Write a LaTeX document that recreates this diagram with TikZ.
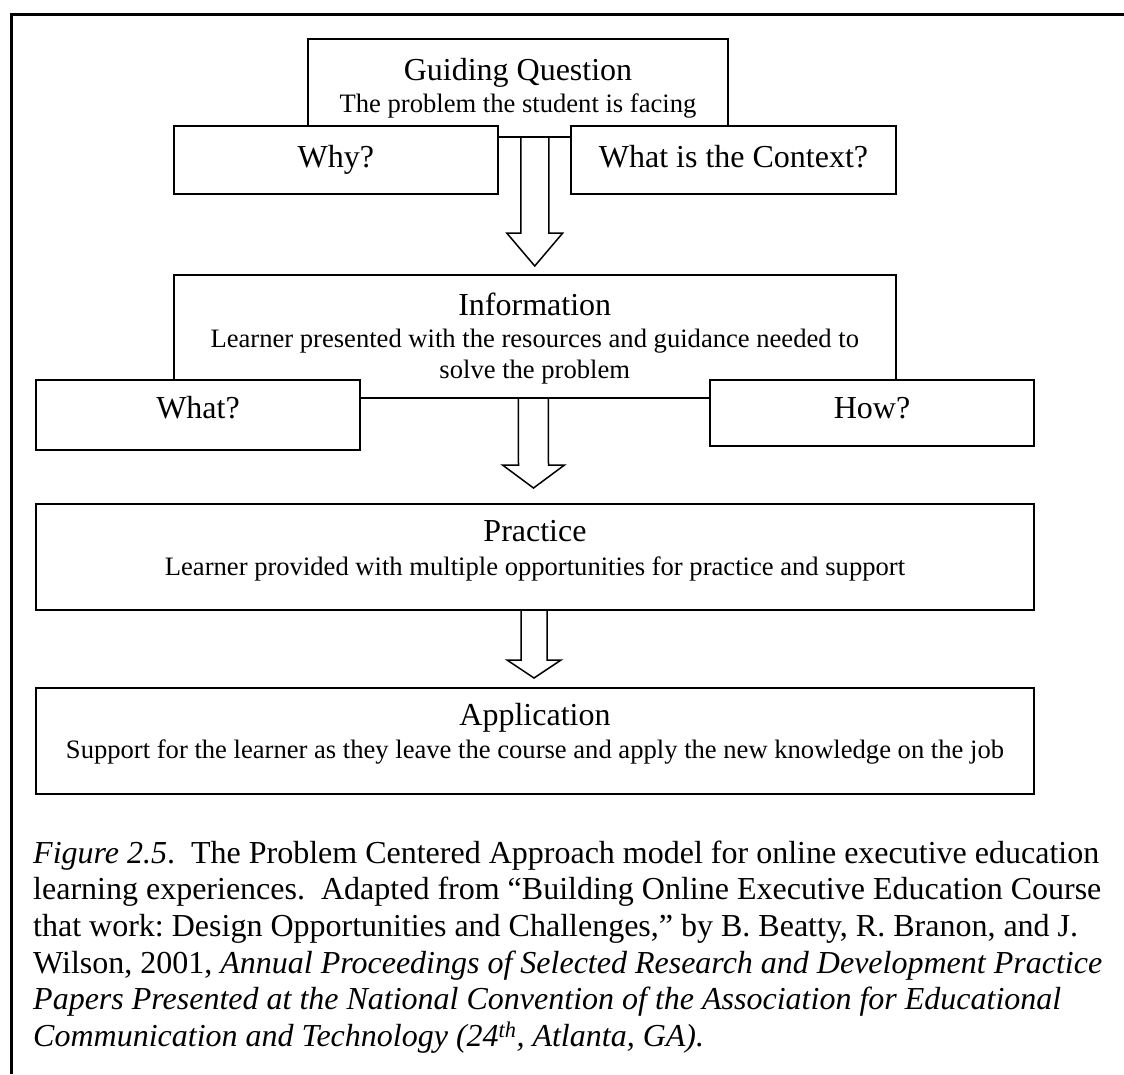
\documentclass[tikz,border=0pt]{standalone}
\usepackage{fontspec}
\setmainfont{Liberation Serif}
\usetikzlibrary{calc}
\frenchspacing

\tikzset{
  box/.style={draw, line width=2pt, fill=white, inner sep=0pt, outer sep=0pt},
  headtext/.style={font=\fontsize{32}{36}\selectfont, inner sep=0pt, anchor=base},
  subtext/.style={font=\fontsize{26.6}{30}\selectfont, inner sep=0pt, anchor=base},
  capline/.style={font=\fontsize{32}{36}\selectfont, inner sep=0pt, anchor=base west},
  flowline/.style={draw, line width=1.5pt, line join=miter},
  frameline/.style={line width=2.5pt}
}

% hollow block arrow: #1 start, #2 tip, #3 shaft half width, #4 head half width, #5 head length
\newcommand\blockarrow[5]{%
  \draw[flowline] ($(#1)+(-#3,0)$) -- ($(#2)+(-#3,-#5)$) -- ($(#2)+(-#4,-#5)$)
    -- (#2) -- ($(#2)+(#4,-#5)$) -- ($(#2)+(#3,-#5)$) -- ($(#1)+(#3,0)$);}

\begin{document}
\begin{tikzpicture}[x=1pt,y=-1pt]
\useasboundingbox (0,0) rectangle (1124,1074);

% page frame (top and left edges)
\coordinate (frTR) at (1124,14.5);
\coordinate (frTL) at (11.7,14.5);
\coordinate (frBL) at (11.7,1074);
\draw[frameline] (frTR) -- (frTL) -- (frBL);

% guiding question block
\node[box, minimum width=420pt, minimum height=98pt] (gq) at (518,88) {};
\node[headtext] (gqT) at (518,80) {Guiding Question};
\node[subtext] (gqS) at (518,112) {The problem the student is facing};
\node[box, minimum width=324.5pt, minimum height=68.3pt] (why) at (335.75,159.85) {};
\node[headtext] (whyT) at (335.75,167) {Why?};
\node[box, minimum width=325pt, minimum height=68.3pt] (ctx) at (733.5,159.85) {};
\node[headtext] (ctxT) at (733.5,167) {What is the Context?};

% information block
\node[box, minimum width=722.5pt, minimum height=122.7pt] (info) at (534.75,336.35) {};
\node[headtext] (infoT) at (534.75,315) {Information};
\node[subtext] (infoS1) at (534.75,347) {Learner presented with the resources and guidance needed to};
\node[subtext] (infoS2) at (534.75,378) {solve the problem};
\node[box, minimum width=324pt, minimum height=70pt] (what) at (198,415) {};
\node[headtext] (whatT) at (198,418) {What?};
\node[box, minimum width=324pt, minimum height=65.7pt] (how) at (872,412.85) {};
\node[headtext] (howT) at (872,418) {How?};

% practice block
\node[box, minimum width=998pt, minimum height=106pt] (prac) at (535,557) {};
\node[headtext] (pracT) at (535,541.7) {Practice};
\node[subtext] (pracS) at (535,575) {Learner provided with multiple opportunities for practice and support};

% application block
\node[box, minimum width=998pt, minimum height=106pt] (app) at (535,741) {};
\node[headtext] (appT) at (535,725) {Application};
\node[subtext] (appS) at (535,758) {Support for the learner as they leave the course and apply the new knowledge on the job};

% flow arrows
\coordinate (a1s) at (info.north |- gq.south);
\coordinate (a1t) at ($(info.north)+(0,-9)$);
\blockarrow{a1s}{a1t}{14}{28}{33}
\coordinate (a2s) at ($(info.south)+(-1.5,0)$);
\coordinate (a2t) at ($(prac.north)+(-1.5,-16)$);
\blockarrow{a2s}{a2t}{15}{31}{23}
\coordinate (a3s) at ($(prac.south)+(-1,0)$);
\coordinate (a3t) at ($(app.north)+(-1,-10)$);
\blockarrow{a3s}{a3t}{13}{27}{18}

% caption
\node[capline] (cap1) at (33,863) {\textit{Figure 2.5}.\ \ The Problem Centered Approach model for online executive education};
\node[capline] (cap2) at (33,899.7) {learning experiences.\ \ Adapted from “Building Online Executive Education Course};
\node[capline] (cap3) at (33,936.4) {that work: Design Opportunities and Challenges,” by B. Beatty, R. Branon, and J.};
\node[capline] (cap4) at (33,973.1) {Wilson, 2001, \textit{Annual Proceedings of Selected Research and Development Practice}};
\node[capline] (cap5) at (33,1009.8) {\textit{Papers Presented at the National Convention of the Association for Educational}};
\node[capline] (cap6) at (33,1046.5) {\textit{Communication and Technology (24\textsuperscript{th}, Atlanta, GA).}};
\end{tikzpicture}
\end{document}
